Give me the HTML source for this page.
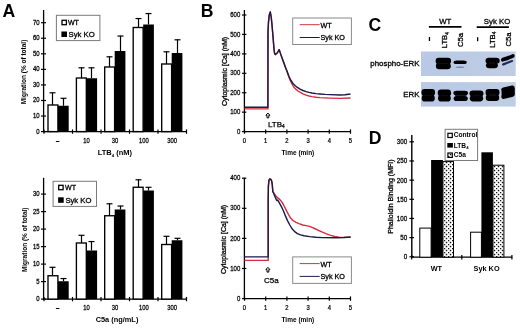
<!DOCTYPE html>
<html><head><meta charset="utf-8"><style>
html,body{margin:0;padding:0;background:#fff;width:520px;height:328px;overflow:hidden}
svg{display:block;will-change:transform}
text{font-family:"Liberation Sans", sans-serif}
text.r{stroke:#000;stroke-width:0.3px}
text.r2{stroke:#000;stroke-width:0.25px}
text.r3{stroke:#000;stroke-width:0.25px}
</style></head><body>
<svg width="520" height="328" viewBox="0 0 520 328">
<defs>
<pattern id="dots" width="4" height="4" patternUnits="userSpaceOnUse">
<rect width="4" height="4" fill="#fff"/>
<rect x="-0.2" y="-0.2" width="1.45" height="1.45" fill="#111"/>
<rect x="1.8" y="1.8" width="1.45" height="1.45" fill="#111"/>
</pattern>
<filter id="bl" x="-10%" y="-10%" width="120%" height="120%"><feGaussianBlur stdDeviation="0.5"/></filter>
<linearGradient id="blotg" x1="0" x2="1" y1="0" y2="0"><stop offset="0" stop-color="#b8c8e6"/><stop offset="0.5" stop-color="#bccbe4"/><stop offset="1" stop-color="#bfcde4"/></linearGradient>
</defs>
<rect width="520" height="328" fill="#fff"/>
<text x="2.6" y="16.6" font-size="17.6" font-weight="bold" text-anchor="start" fill="#000" >A</text>
<text x="200.8" y="16.5" font-size="17.6" font-weight="bold" text-anchor="start" fill="#000" >B</text>
<text x="368.6" y="31.3" font-size="17.6" font-weight="bold" text-anchor="start" fill="#000" >C</text>
<text x="368.7" y="143.6" font-size="17.6" font-weight="bold" text-anchor="start" fill="#000" >D</text>
<line x1="43.6" y1="10" x2="43.6" y2="132.2" stroke="#000" stroke-width="1.3"/>
<line x1="43.0" y1="131.6" x2="186.8" y2="131.6" stroke="#000" stroke-width="1.3"/>
<line x1="41.0" y1="131.6" x2="46.0" y2="131.6" stroke="#000" stroke-width="1.2"/>
<text class="r2" transform="translate(39.60,133.50) scale(0.92,1)" font-size="6.5" font-weight="normal" text-anchor="end">0</text>
<line x1="41.0" y1="116.04299999999999" x2="46.0" y2="116.04299999999999" stroke="#000" stroke-width="1.2"/>
<text class="r2" transform="translate(39.60,117.94) scale(0.92,1)" font-size="6.5" font-weight="normal" text-anchor="end">10</text>
<line x1="41.0" y1="100.48599999999999" x2="46.0" y2="100.48599999999999" stroke="#000" stroke-width="1.2"/>
<text class="r2" transform="translate(39.60,102.39) scale(0.92,1)" font-size="6.5" font-weight="normal" text-anchor="end">20</text>
<line x1="41.0" y1="84.929" x2="46.0" y2="84.929" stroke="#000" stroke-width="1.2"/>
<text class="r2" transform="translate(39.60,86.83) scale(0.92,1)" font-size="6.5" font-weight="normal" text-anchor="end">30</text>
<line x1="41.0" y1="69.37199999999999" x2="46.0" y2="69.37199999999999" stroke="#000" stroke-width="1.2"/>
<text class="r2" transform="translate(39.60,71.27) scale(0.92,1)" font-size="6.5" font-weight="normal" text-anchor="end">40</text>
<line x1="41.0" y1="53.81499999999998" x2="46.0" y2="53.81499999999998" stroke="#000" stroke-width="1.2"/>
<text class="r2" transform="translate(39.60,55.71) scale(0.92,1)" font-size="6.5" font-weight="normal" text-anchor="end">50</text>
<line x1="41.0" y1="38.257999999999996" x2="46.0" y2="38.257999999999996" stroke="#000" stroke-width="1.2"/>
<text class="r2" transform="translate(39.60,40.16) scale(0.92,1)" font-size="6.5" font-weight="normal" text-anchor="end">60</text>
<line x1="41.0" y1="22.700999999999993" x2="46.0" y2="22.700999999999993" stroke="#000" stroke-width="1.2"/>
<text class="r2" transform="translate(39.60,24.60) scale(0.92,1)" font-size="6.5" font-weight="normal" text-anchor="end">70</text>
<line x1="44.0" y1="129.4" x2="44.0" y2="133.79999999999998" stroke="#000" stroke-width="1.2"/>
<line x1="72.5" y1="129.4" x2="72.5" y2="133.79999999999998" stroke="#000" stroke-width="1.2"/>
<line x1="101.0" y1="129.4" x2="101.0" y2="133.79999999999998" stroke="#000" stroke-width="1.2"/>
<line x1="129.5" y1="129.4" x2="129.5" y2="133.79999999999998" stroke="#000" stroke-width="1.2"/>
<line x1="158.0" y1="129.4" x2="158.0" y2="133.79999999999998" stroke="#000" stroke-width="1.2"/>
<line x1="186.5" y1="129.4" x2="186.5" y2="133.79999999999998" stroke="#000" stroke-width="1.2"/>
<text class="r2" transform="translate(57.70,143.00) scale(0.86,1)" font-size="6.8" font-weight="normal" text-anchor="middle">–</text>
<text class="r2" transform="translate(86.60,143.00) scale(0.86,1)" font-size="6.8" font-weight="normal" text-anchor="middle">10</text>
<text class="r2" transform="translate(115.00,143.00) scale(0.86,1)" font-size="6.8" font-weight="normal" text-anchor="middle">30</text>
<text class="r2" transform="translate(143.80,143.00) scale(0.86,1)" font-size="6.8" font-weight="normal" text-anchor="middle">100</text>
<text class="r2" transform="translate(172.10,143.00) scale(0.86,1)" font-size="6.8" font-weight="normal" text-anchor="middle">300</text>
<line x1="52.5" y1="92.5" x2="52.5" y2="105" stroke="#000" stroke-width="1.2"/>
<line x1="49.5" y1="92.8" x2="55.5" y2="92.8" stroke="#000" stroke-width="1.2"/>
<line x1="63.5" y1="98" x2="63.5" y2="105.75" stroke="#000" stroke-width="1.2"/>
<line x1="60.5" y1="98.3" x2="66.5" y2="98.3" stroke="#000" stroke-width="1.2"/>
<rect x="48.00" y="105.00" width="9.90" height="26.60" fill="#fff" stroke="#000" stroke-width="1.35" />
<rect x="58.00" y="105.75" width="10.70" height="25.85" fill="#000" />
<line x1="81.5" y1="67.5" x2="81.5" y2="78" stroke="#000" stroke-width="1.2"/>
<line x1="78.5" y1="67.8" x2="84.5" y2="67.8" stroke="#000" stroke-width="1.2"/>
<line x1="91.5" y1="67.5" x2="91.5" y2="78.25" stroke="#000" stroke-width="1.2"/>
<line x1="88.5" y1="67.8" x2="94.5" y2="67.8" stroke="#000" stroke-width="1.2"/>
<rect x="76.40" y="78.00" width="9.90" height="53.60" fill="#fff" stroke="#000" stroke-width="1.35" />
<rect x="86.40" y="78.25" width="10.70" height="53.35" fill="#000" />
<line x1="109.5" y1="56.5" x2="109.5" y2="67" stroke="#000" stroke-width="1.2"/>
<line x1="106.5" y1="56.8" x2="112.5" y2="56.8" stroke="#000" stroke-width="1.2"/>
<line x1="120.5" y1="35.75" x2="120.5" y2="51" stroke="#000" stroke-width="1.2"/>
<line x1="117.5" y1="36.05" x2="123.5" y2="36.05" stroke="#000" stroke-width="1.2"/>
<rect x="104.70" y="67.00" width="9.90" height="64.60" fill="#fff" stroke="#000" stroke-width="1.35" />
<rect x="114.70" y="51.00" width="10.70" height="80.60" fill="#000" />
<line x1="138.5" y1="18.25" x2="138.5" y2="27.5" stroke="#000" stroke-width="1.2"/>
<line x1="135.5" y1="18.55" x2="141.5" y2="18.55" stroke="#000" stroke-width="1.2"/>
<line x1="148.5" y1="13.25" x2="148.5" y2="24.5" stroke="#000" stroke-width="1.2"/>
<line x1="145.5" y1="13.55" x2="151.5" y2="13.55" stroke="#000" stroke-width="1.2"/>
<rect x="133.20" y="27.50" width="9.90" height="104.10" fill="#fff" stroke="#000" stroke-width="1.35" />
<rect x="143.20" y="24.50" width="10.70" height="107.10" fill="#000" />
<line x1="166.5" y1="51.5" x2="166.5" y2="64" stroke="#000" stroke-width="1.2"/>
<line x1="163.5" y1="51.8" x2="169.5" y2="51.8" stroke="#000" stroke-width="1.2"/>
<line x1="177.5" y1="39.5" x2="177.5" y2="53" stroke="#000" stroke-width="1.2"/>
<line x1="174.5" y1="39.8" x2="180.5" y2="39.8" stroke="#000" stroke-width="1.2"/>
<rect x="161.70" y="64.00" width="9.90" height="67.60" fill="#fff" stroke="#000" stroke-width="1.35" />
<rect x="171.70" y="53.00" width="10.70" height="78.60" fill="#000" />
<line x1="43.6" y1="177.8" x2="43.6" y2="299.70000000000005" stroke="#000" stroke-width="1.3"/>
<line x1="43.0" y1="299.1" x2="186.8" y2="299.1" stroke="#000" stroke-width="1.3"/>
<line x1="41.0" y1="299.1" x2="46.0" y2="299.1" stroke="#000" stroke-width="1.2"/>
<text class="r2" transform="translate(39.60,301.00) scale(0.92,1)" font-size="6.5" font-weight="normal" text-anchor="end">0</text>
<line x1="41.0" y1="281.6" x2="46.0" y2="281.6" stroke="#000" stroke-width="1.2"/>
<text class="r2" transform="translate(39.60,283.50) scale(0.92,1)" font-size="6.5" font-weight="normal" text-anchor="end">5</text>
<line x1="41.0" y1="264.1" x2="46.0" y2="264.1" stroke="#000" stroke-width="1.2"/>
<text class="r2" transform="translate(39.60,266.00) scale(0.92,1)" font-size="6.5" font-weight="normal" text-anchor="end">10</text>
<line x1="41.0" y1="246.60000000000002" x2="46.0" y2="246.60000000000002" stroke="#000" stroke-width="1.2"/>
<text class="r2" transform="translate(39.60,248.50) scale(0.92,1)" font-size="6.5" font-weight="normal" text-anchor="end">15</text>
<line x1="41.0" y1="229.10000000000002" x2="46.0" y2="229.10000000000002" stroke="#000" stroke-width="1.2"/>
<text class="r2" transform="translate(39.60,231.00) scale(0.92,1)" font-size="6.5" font-weight="normal" text-anchor="end">20</text>
<line x1="41.0" y1="211.60000000000002" x2="46.0" y2="211.60000000000002" stroke="#000" stroke-width="1.2"/>
<text class="r2" transform="translate(39.60,213.50) scale(0.92,1)" font-size="6.5" font-weight="normal" text-anchor="end">25</text>
<line x1="41.0" y1="194.10000000000002" x2="46.0" y2="194.10000000000002" stroke="#000" stroke-width="1.2"/>
<text class="r2" transform="translate(39.60,196.00) scale(0.92,1)" font-size="6.5" font-weight="normal" text-anchor="end">30</text>
<line x1="44.0" y1="296.90000000000003" x2="44.0" y2="301.3" stroke="#000" stroke-width="1.2"/>
<line x1="72.5" y1="296.90000000000003" x2="72.5" y2="301.3" stroke="#000" stroke-width="1.2"/>
<line x1="101.0" y1="296.90000000000003" x2="101.0" y2="301.3" stroke="#000" stroke-width="1.2"/>
<line x1="129.5" y1="296.90000000000003" x2="129.5" y2="301.3" stroke="#000" stroke-width="1.2"/>
<line x1="158.0" y1="296.90000000000003" x2="158.0" y2="301.3" stroke="#000" stroke-width="1.2"/>
<line x1="186.5" y1="296.90000000000003" x2="186.5" y2="301.3" stroke="#000" stroke-width="1.2"/>
<text class="r2" transform="translate(57.70,310.00) scale(0.86,1)" font-size="6.8" font-weight="normal" text-anchor="middle">–</text>
<text class="r2" transform="translate(86.60,310.00) scale(0.86,1)" font-size="6.8" font-weight="normal" text-anchor="middle">10</text>
<text class="r2" transform="translate(115.00,310.00) scale(0.86,1)" font-size="6.8" font-weight="normal" text-anchor="middle">30</text>
<text class="r2" transform="translate(143.80,310.00) scale(0.86,1)" font-size="6.8" font-weight="normal" text-anchor="middle">100</text>
<text class="r2" transform="translate(172.10,310.00) scale(0.86,1)" font-size="6.8" font-weight="normal" text-anchor="middle">300</text>
<line x1="52.5" y1="267" x2="52.5" y2="275.75" stroke="#000" stroke-width="1.2"/>
<line x1="49.5" y1="267.3" x2="55.5" y2="267.3" stroke="#000" stroke-width="1.2"/>
<line x1="63.5" y1="278.25" x2="63.5" y2="281.25" stroke="#000" stroke-width="1.2"/>
<line x1="60.5" y1="278.55" x2="66.5" y2="278.55" stroke="#000" stroke-width="1.2"/>
<rect x="48.00" y="275.75" width="9.90" height="23.35" fill="#fff" stroke="#000" stroke-width="1.35" />
<rect x="58.00" y="281.25" width="10.70" height="17.85" fill="#000" />
<line x1="81.5" y1="235" x2="81.5" y2="243" stroke="#000" stroke-width="1.2"/>
<line x1="78.5" y1="235.3" x2="84.5" y2="235.3" stroke="#000" stroke-width="1.2"/>
<line x1="91.5" y1="241.25" x2="91.5" y2="250.5" stroke="#000" stroke-width="1.2"/>
<line x1="88.5" y1="241.55" x2="94.5" y2="241.55" stroke="#000" stroke-width="1.2"/>
<rect x="76.40" y="243.00" width="9.90" height="56.10" fill="#fff" stroke="#000" stroke-width="1.35" />
<rect x="86.40" y="250.50" width="10.70" height="48.60" fill="#000" />
<line x1="109.5" y1="203.5" x2="109.5" y2="215.75" stroke="#000" stroke-width="1.2"/>
<line x1="106.5" y1="203.8" x2="112.5" y2="203.8" stroke="#000" stroke-width="1.2"/>
<line x1="120.5" y1="205.75" x2="120.5" y2="209.5" stroke="#000" stroke-width="1.2"/>
<line x1="117.5" y1="206.05" x2="123.5" y2="206.05" stroke="#000" stroke-width="1.2"/>
<rect x="104.70" y="215.75" width="9.90" height="83.35" fill="#fff" stroke="#000" stroke-width="1.35" />
<rect x="114.70" y="209.50" width="10.70" height="89.60" fill="#000" />
<line x1="138.5" y1="179.5" x2="138.5" y2="187.25" stroke="#000" stroke-width="1.2"/>
<line x1="135.5" y1="179.8" x2="141.5" y2="179.8" stroke="#000" stroke-width="1.2"/>
<line x1="148.5" y1="187" x2="148.5" y2="190.5" stroke="#000" stroke-width="1.2"/>
<line x1="145.5" y1="187.3" x2="151.5" y2="187.3" stroke="#000" stroke-width="1.2"/>
<rect x="133.20" y="187.25" width="9.90" height="111.85" fill="#fff" stroke="#000" stroke-width="1.35" />
<rect x="143.20" y="190.50" width="10.70" height="108.60" fill="#000" />
<line x1="166.5" y1="236" x2="166.5" y2="244.5" stroke="#000" stroke-width="1.2"/>
<line x1="163.5" y1="236.3" x2="169.5" y2="236.3" stroke="#000" stroke-width="1.2"/>
<line x1="177.5" y1="238" x2="177.5" y2="240.25" stroke="#000" stroke-width="1.2"/>
<line x1="174.5" y1="238.3" x2="180.5" y2="238.3" stroke="#000" stroke-width="1.2"/>
<rect x="161.70" y="244.50" width="9.90" height="54.60" fill="#fff" stroke="#000" stroke-width="1.35" />
<rect x="171.70" y="240.25" width="10.70" height="58.85" fill="#000" />
<rect x="56.40" y="15.30" width="43.50" height="25.30" fill="#fff" stroke="#7a7a7a" stroke-width="1" />
<rect x="62.00" y="20.30" width="4.40" height="4.40" fill="#fff" stroke="#000" stroke-width="1.3" />
<rect x="61.40" y="31.50" width="5.60" height="5.50" fill="#000" />
<text x="67.9" y="24.7" font-size="7.1" font-weight="normal" text-anchor="start" fill="#000" class="r">WT</text>
<text x="68.6" y="37.0" font-size="7.7" font-weight="normal" text-anchor="start" fill="#000" class="r">Syk KO</text>
<rect x="53.10" y="181.30" width="43.40" height="25.10" fill="#fff" stroke="#7a7a7a" stroke-width="1" />
<rect x="58.70" y="185.30" width="4.40" height="4.40" fill="#fff" stroke="#000" stroke-width="1.3" />
<rect x="58.10" y="197.30" width="5.60" height="5.50" fill="#000" />
<text x="65.0" y="189.7" font-size="7.1" font-weight="normal" text-anchor="start" fill="#000" class="r">WT</text>
<text x="65.4" y="202.8" font-size="7.7" font-weight="normal" text-anchor="start" fill="#000" class="r">Syk KO</text>
<text x="114.9" y="155.4" font-size="7.5" font-weight="bold" text-anchor="middle" fill="#000" >LTB<tspan font-size="4.3" dy="1.6">4</tspan><tspan dy="-1.6"> (nM)</tspan></text>
<text x="117" y="322.3" font-size="7.4" font-weight="bold" text-anchor="middle" fill="#000" >C5a (ng/mL)</text>
<text transform="translate(26.4,72) rotate(-90)" font-size="6.5" font-weight="bold" text-anchor="middle">Migration (% of total)</text>
<text transform="translate(26.6,239.8) rotate(-90)" font-size="6.5" font-weight="bold" text-anchor="middle">Migration (% of total)</text>
<line x1="244.4" y1="10" x2="244.4" y2="132.2" stroke="#000" stroke-width="1.3"/>
<line x1="243.8" y1="131.6" x2="350.9" y2="131.6" stroke="#000" stroke-width="1.3"/>
<line x1="242.0" y1="131.6" x2="246.4" y2="131.6" stroke="#000" stroke-width="1.2"/>
<text class="r2" transform="translate(240.30,133.70) scale(0.86,1)" font-size="7.0" font-weight="normal" text-anchor="end">0</text>
<line x1="242.0" y1="112.16999999999999" x2="246.4" y2="112.16999999999999" stroke="#000" stroke-width="1.2"/>
<text class="r2" transform="translate(240.30,114.27) scale(0.86,1)" font-size="7.0" font-weight="normal" text-anchor="end">100</text>
<line x1="242.0" y1="92.74" x2="246.4" y2="92.74" stroke="#000" stroke-width="1.2"/>
<text class="r2" transform="translate(240.30,94.84) scale(0.86,1)" font-size="7.0" font-weight="normal" text-anchor="end">200</text>
<line x1="242.0" y1="73.31" x2="246.4" y2="73.31" stroke="#000" stroke-width="1.2"/>
<text class="r2" transform="translate(240.30,75.41) scale(0.86,1)" font-size="7.0" font-weight="normal" text-anchor="end">300</text>
<line x1="242.0" y1="53.879999999999995" x2="246.4" y2="53.879999999999995" stroke="#000" stroke-width="1.2"/>
<text class="r2" transform="translate(240.30,55.98) scale(0.86,1)" font-size="7.0" font-weight="normal" text-anchor="end">400</text>
<line x1="242.0" y1="34.44999999999999" x2="246.4" y2="34.44999999999999" stroke="#000" stroke-width="1.2"/>
<text class="r2" transform="translate(240.30,36.55) scale(0.86,1)" font-size="7.0" font-weight="normal" text-anchor="end">500</text>
<line x1="242.0" y1="15.019999999999996" x2="246.4" y2="15.019999999999996" stroke="#000" stroke-width="1.2"/>
<text class="r2" transform="translate(240.30,17.12) scale(0.86,1)" font-size="7.0" font-weight="normal" text-anchor="end">600</text>
<line x1="244.5" y1="129.4" x2="244.5" y2="133.79999999999998" stroke="#000" stroke-width="1.2"/>
<text class="r2" transform="translate(244.50,142.80) scale(0.9,1)" font-size="6.5" font-weight="normal" text-anchor="middle">0</text>
<line x1="265.7" y1="129.4" x2="265.7" y2="133.79999999999998" stroke="#000" stroke-width="1.2"/>
<text class="r2" transform="translate(265.70,142.80) scale(0.9,1)" font-size="6.5" font-weight="normal" text-anchor="middle">1</text>
<line x1="286.9" y1="129.4" x2="286.9" y2="133.79999999999998" stroke="#000" stroke-width="1.2"/>
<text class="r2" transform="translate(286.90,142.80) scale(0.9,1)" font-size="6.5" font-weight="normal" text-anchor="middle">2</text>
<line x1="308.1" y1="129.4" x2="308.1" y2="133.79999999999998" stroke="#000" stroke-width="1.2"/>
<text class="r2" transform="translate(308.10,142.80) scale(0.9,1)" font-size="6.5" font-weight="normal" text-anchor="middle">3</text>
<line x1="329.3" y1="129.4" x2="329.3" y2="133.79999999999998" stroke="#000" stroke-width="1.2"/>
<text class="r2" transform="translate(329.30,142.80) scale(0.9,1)" font-size="6.5" font-weight="normal" text-anchor="middle">4</text>
<line x1="350.5" y1="129.4" x2="350.5" y2="133.79999999999998" stroke="#000" stroke-width="1.2"/>
<text class="r2" transform="translate(350.50,142.80) scale(0.9,1)" font-size="6.5" font-weight="normal" text-anchor="middle">5</text>
<text x="297.9" y="154.6" font-size="6.5" font-weight="bold" text-anchor="middle" fill="#000" >Time (min)</text>
<polyline fill="none" stroke="#d42c40" stroke-width="1.4" stroke-linejoin="round" points="244.5,108.9 267.9,108.9 268.0,32.0 268.5,22.0 269.3,15.0 270.3,12.0 271.2,17.0 272.2,27.0 273.2,39.0 274.0,49.0 274.6,53.5 275.4,54.6 277.2,53.0 279.2,49.7 280.5,53.6 282.5,59.3 284.0,63.3 285.5,67.5 287.0,71.5 288.5,76.0 290.0,79.9 292.0,84.0 294.0,87.3 296.0,89.4 298.0,91.0 300.0,92.2 303.0,93.8 306.0,95.1 309.0,96.0 312.0,96.6 316.0,97.2 320.0,97.6 330.0,98.1 340.0,98.4 350.5,98.0"/>
<polyline fill="none" stroke="#1a1a48" stroke-width="1.4" stroke-linejoin="round" points="244.5,107.2 267.9,107.2 268.0,32.0 268.5,22.0 269.3,15.0 270.3,12.0 271.2,17.0 272.2,27.0 273.2,39.0 274.0,49.0 274.6,53.5 275.4,54.6 277.2,53.0 279.2,49.7 280.5,53.6 282.5,59.3 284.0,63.3 285.5,67.5 287.0,71.0 289.0,76.5 291.0,80.5 293.0,83.5 295.0,85.5 297.0,87.2 300.0,89.2 303.0,90.5 306.0,91.6 309.0,92.4 312.0,93.0 316.0,93.6 320.0,94.0 325.0,94.4 330.0,94.6 340.0,95.0 345.0,94.8 350.5,94.0"/>
<path d="M267.9 113.0 l-2.0 2.3 h1.1 v2.5 h1.8 v-2.5 h1.1 z" fill="#fff" stroke="#000" stroke-width="1.0" stroke-linejoin="round"/>
<rect x="292.70" y="18.00" width="58.70" height="26.50" fill="#fff" stroke="#8a8a8a" stroke-width="1" />
<line x1="299.7" y1="24.7" x2="319.7" y2="24.7" stroke="#d8303c" stroke-width="1"/>
<line x1="299.7" y1="37.5" x2="319.7" y2="37.5" stroke="#1c1c4c" stroke-width="1"/>
<text x="320.5" y="27.9" font-size="7.2" font-weight="normal" text-anchor="start" fill="#000" class="r">WT</text>
<text x="320.5" y="40.2" font-size="7.2" font-weight="normal" text-anchor="start" fill="#000" class="r">Syk KO</text>
<text x="267.9" y="126.5" font-size="8.0" font-weight="normal" text-anchor="start" fill="#000" class="r3">LTB<tspan font-size="4.8" dy="1.6">4</tspan></text>
<text class="r" transform="translate(226.6,71.5) rotate(-90)" font-size="7.0" font-weight="normal" text-anchor="middle">Cytoplasmic [Ca] (nM)</text>
<line x1="244.4" y1="177.8" x2="244.4" y2="299.20000000000005" stroke="#000" stroke-width="1.3"/>
<line x1="243.8" y1="298.6" x2="350.9" y2="298.6" stroke="#000" stroke-width="1.3"/>
<line x1="242.0" y1="298.6" x2="246.4" y2="298.6" stroke="#000" stroke-width="1.2"/>
<text class="r2" transform="translate(240.30,300.70) scale(0.86,1)" font-size="7.0" font-weight="normal" text-anchor="end">0</text>
<line x1="242.0" y1="268.5" x2="246.4" y2="268.5" stroke="#000" stroke-width="1.2"/>
<text class="r2" transform="translate(240.30,270.60) scale(0.86,1)" font-size="7.0" font-weight="normal" text-anchor="end">100</text>
<line x1="242.0" y1="238.40000000000003" x2="246.4" y2="238.40000000000003" stroke="#000" stroke-width="1.2"/>
<text class="r2" transform="translate(240.30,240.50) scale(0.86,1)" font-size="7.0" font-weight="normal" text-anchor="end">200</text>
<line x1="242.0" y1="208.3" x2="246.4" y2="208.3" stroke="#000" stroke-width="1.2"/>
<text class="r2" transform="translate(240.30,210.40) scale(0.86,1)" font-size="7.0" font-weight="normal" text-anchor="end">300</text>
<line x1="242.0" y1="178.20000000000005" x2="246.4" y2="178.20000000000005" stroke="#000" stroke-width="1.2"/>
<text class="r2" transform="translate(240.30,180.30) scale(0.86,1)" font-size="7.0" font-weight="normal" text-anchor="end">400</text>
<line x1="244.5" y1="296.40000000000003" x2="244.5" y2="300.8" stroke="#000" stroke-width="1.2"/>
<text class="r2" transform="translate(244.50,309.80) scale(0.9,1)" font-size="6.5" font-weight="normal" text-anchor="middle">0</text>
<line x1="265.7" y1="296.40000000000003" x2="265.7" y2="300.8" stroke="#000" stroke-width="1.2"/>
<text class="r2" transform="translate(265.70,309.80) scale(0.9,1)" font-size="6.5" font-weight="normal" text-anchor="middle">1</text>
<line x1="286.9" y1="296.40000000000003" x2="286.9" y2="300.8" stroke="#000" stroke-width="1.2"/>
<text class="r2" transform="translate(286.90,309.80) scale(0.9,1)" font-size="6.5" font-weight="normal" text-anchor="middle">2</text>
<line x1="308.1" y1="296.40000000000003" x2="308.1" y2="300.8" stroke="#000" stroke-width="1.2"/>
<text class="r2" transform="translate(308.10,309.80) scale(0.9,1)" font-size="6.5" font-weight="normal" text-anchor="middle">3</text>
<line x1="329.3" y1="296.40000000000003" x2="329.3" y2="300.8" stroke="#000" stroke-width="1.2"/>
<text class="r2" transform="translate(329.30,309.80) scale(0.9,1)" font-size="6.5" font-weight="normal" text-anchor="middle">4</text>
<line x1="350.5" y1="296.40000000000003" x2="350.5" y2="300.8" stroke="#000" stroke-width="1.2"/>
<text class="r2" transform="translate(350.50,309.80) scale(0.9,1)" font-size="6.5" font-weight="normal" text-anchor="middle">5</text>
<text x="297.9" y="321.6" font-size="6.5" font-weight="bold" text-anchor="middle" fill="#000" >Time (min)</text>
<polyline fill="none" stroke="#d42c40" stroke-width="1.4" stroke-linejoin="round" points="244.5,260.4 268.2,260.4 268.2,200.0 268.4,186.0 268.9,180.5 269.6,179.0 270.8,179.4 271.7,181.0 272.3,185.0 272.8,191.5 274.8,194.5 276.6,196.9 279.9,199.6 282.0,202.2 283.7,205.2 286.0,209.6 288.3,214.2 290.5,217.8 292.9,220.5 296.0,222.4 299.0,223.6 302.8,225.0 306.0,225.6 309.6,226.4 312.6,227.6 315.6,229.0 319.0,230.6 322.4,232.2 326.5,233.9 330.7,235.4 334.8,236.5 338.9,237.2 344.0,237.4 350.6,237.2"/>
<polyline fill="none" stroke="#1a1a48" stroke-width="1.4" stroke-linejoin="round" points="244.5,256.9 268.2,256.9 268.2,200.0 268.4,186.0 268.9,180.5 269.6,179.0 270.8,179.4 271.7,181.0 272.3,185.0 272.8,191.5 274.0,194.2 275.3,197.4 276.3,199.6 276.9,200.6 277.6,200.0 278.4,201.2 280.3,204.6 282.2,208.2 283.8,211.8 285.2,215.4 287.5,220.6 289.8,225.0 292.1,228.8 294.4,231.4 297.4,233.6 300.5,234.9 304.0,235.8 309.6,236.6 316.0,237.2 322.4,237.6 336.2,237.8 344.0,237.5 350.6,237.0"/>
<path d="M267.9 267.3 l-2.0 2.3 h1.1 v2.5 h1.8 v-2.5 h1.1 z" fill="#fff" stroke="#000" stroke-width="1.0" stroke-linejoin="round"/>
<rect x="292.70" y="256.90" width="58.70" height="26.50" fill="#fff" stroke="#8a8a8a" stroke-width="1" />
<line x1="299.7" y1="263.59999999999997" x2="319.7" y2="263.59999999999997" stroke="#d8303c" stroke-width="1"/>
<line x1="299.7" y1="276.4" x2="319.7" y2="276.4" stroke="#1c1c4c" stroke-width="1"/>
<text x="320.5" y="266.79999999999995" font-size="7.2" font-weight="normal" text-anchor="start" fill="#000" class="r">WT</text>
<text x="320.5" y="279.09999999999997" font-size="7.2" font-weight="normal" text-anchor="start" fill="#000" class="r">Syk KO</text>
<text x="264.0" y="282.7" font-size="8.0" font-weight="normal" text-anchor="start" fill="#000" class="r3">C5a</text>
<text class="r" transform="translate(226.2,239.5) rotate(-90)" font-size="7.0" font-weight="normal" text-anchor="middle">Cytoplasmic [Ca] (nM)</text>
<text x="445.2" y="24.1" font-size="7.8" font-weight="normal" text-anchor="middle" fill="#000" class="r">WT</text>
<line x1="428.9" y1="26.9" x2="461.5" y2="26.9" stroke="#000" stroke-width="1.6"/>
<text x="497" y="24.4" font-size="7.8" font-weight="normal" text-anchor="middle" fill="#000" class="r">Syk KO</text>
<line x1="476.7" y1="27.1" x2="508.9" y2="27.1" stroke="#000" stroke-width="1.6"/>
<rect x="428.80" y="37.00" width="1.30" height="4.00" fill="#000" />
<rect x="477.00" y="37.20" width="1.30" height="4.00" fill="#000" />
<text class="r" transform="translate(446.9,48.3) rotate(-90)" font-size="7.7" font-weight="normal" text-anchor="start">LTB<tspan font-size="4.9" dy="1.6">4</tspan></text>
<text class="r" transform="translate(494.6,47.8) rotate(-90)" font-size="7.7" font-weight="normal" text-anchor="start">LTB<tspan font-size="4.9" dy="1.6">4</tspan></text>
<text class="r" transform="translate(463.2,47.0) rotate(-90)" font-size="7.7" font-weight="normal" text-anchor="start">C5a</text>
<text class="r" transform="translate(511.3,46.5) rotate(-90)" font-size="7.7" font-weight="normal" text-anchor="start">C5a</text>
<text x="370.3" y="66.3" font-size="7.9" font-weight="normal" text-anchor="start" fill="#000" class="r">phospho-ERK</text>
<text x="419.6" y="97.3" font-size="7.9" font-weight="normal" text-anchor="end" fill="#000" class="r">ERK</text>
<rect x="421.00" y="51.50" width="94.70" height="24.50" fill="url(#blotg)" />
<rect x="421.00" y="82.10" width="94.70" height="24.50" fill="url(#blotg)" />
<g filter="url(#bl)">
<rect x="435.60" y="57.70" width="15.50" height="6.45" rx="3.20" ry="3.23" fill="#040406"/>
<rect x="435.90" y="62.75" width="14.90" height="6.45" rx="3.20" ry="3.23" fill="#040406"/>
<rect x="438.60" y="63.20" width="9.50" height="0.5" fill="#1a1a22"/>
<rect x="453.50" y="60.40" width="13.30" height="3.70" rx="3.20" ry="1.85" fill="#040406"/>
<rect x="455.50" y="66.50" width="9.00" height="1.40" rx="3.20" ry="0.70" fill="#7a88a8"/>
<rect x="485.50" y="57.70" width="14.20" height="5.90" rx="3.20" ry="2.95" fill="#040406"/>
<rect x="485.90" y="62.40" width="12.00" height="5.80" rx="3.20" ry="2.90" fill="#040406"/>
<rect x="489" y="62.8" width="6" height="0.5" fill="#1a1a22"/>
<path d="M501.0 59.8 Q501.0 62.0 503.0 61.6 Q508.5 60.0 513.4 57.8 Q515.2 56.8 514.5 55.0 Q513.8 53.6 511.8 54.4 Q507 56.3 502.4 57.8 Q501.0 58.4 501.0 59.8 Z" fill="#060608"/>
<path d="M502.0 64.8 Q502.2 66.0 503.8 65.4 Q508 63.8 512.6 61.8 Q513.6 61.1 512.9 60.2 Q512.2 59.7 511 60.2 Q507 61.8 503.0 63.3 Q501.9 63.8 502.0 64.8 Z" fill="#232a58"/>
<rect x="421.40" y="89.10" width="13.70" height="6.95" rx="3.20" ry="3.48" fill="#040406"/>
<rect x="421.70" y="94.65" width="13.10" height="6.95" rx="3.20" ry="3.48" fill="#040406"/>
<rect x="424.40" y="95.10" width="7.70" height="0.5" fill="#1a1a22"/>
<rect x="437.70" y="89.50" width="13.40" height="6.75" rx="3.20" ry="3.38" fill="#040406"/>
<rect x="438.00" y="94.85" width="12.80" height="6.75" rx="3.20" ry="3.38" fill="#040406"/>
<rect x="440.70" y="95.30" width="7.40" height="0.5" fill="#1a1a22"/>
<rect x="455" y="94.6" width="11.5" height="2.0" fill="#3a3a4c"/>
<rect x="453.40" y="90.80" width="14.60" height="4.60" rx="3.20" ry="2.30" fill="#040406"/>
<rect x="453.60" y="95.90" width="14.20" height="5.10" rx="3.20" ry="2.55" fill="#040406"/>
<rect x="469.50" y="90.40" width="14.00" height="6.20" rx="3.20" ry="3.10" fill="#040406"/>
<rect x="469.80" y="95.20" width="13.40" height="6.20" rx="3.20" ry="3.10" fill="#040406"/>
<rect x="472.50" y="95.65" width="8.00" height="0.5" fill="#1a1a22"/>
<rect x="485.50" y="89.10" width="14.00" height="6.65" rx="3.20" ry="3.33" fill="#040406"/>
<rect x="485.80" y="94.35" width="13.40" height="6.65" rx="3.20" ry="3.33" fill="#040406"/>
<rect x="488.50" y="94.80" width="8.00" height="0.5" fill="#1a1a22"/>
<path d="M501.3 89.6 Q501.1 87.9 503.2 87.5 L511.8 85.6 Q514.7 85.0 514.8 88.2 L514.8 94.6 Q514.8 96.6 512.3 96.9 L503.5 98.9 Q501.3 99.2 501.3 96.8 Q501.9 93.6 501.3 89.6 Z" fill="#040406"/>
</g>
<line x1="411.8" y1="134.9" x2="411.8" y2="257.9" stroke="#000" stroke-width="1.4"/>
<line x1="411.2" y1="257.2" x2="512.2" y2="257.2" stroke="#000" stroke-width="1.3"/>
<line x1="409.4" y1="256.8" x2="414.0" y2="256.8" stroke="#000" stroke-width="1.2"/>
<text class="r2" transform="translate(407.20,259.30) scale(0.95,1)" font-size="6.6" font-weight="normal" text-anchor="end">0</text>
<line x1="409.4" y1="237.63500000000002" x2="414.0" y2="237.63500000000002" stroke="#000" stroke-width="1.2"/>
<text class="r2" transform="translate(407.20,240.14) scale(0.95,1)" font-size="6.6" font-weight="normal" text-anchor="end">50</text>
<line x1="409.4" y1="218.47000000000003" x2="414.0" y2="218.47000000000003" stroke="#000" stroke-width="1.2"/>
<text class="r2" transform="translate(407.20,220.97) scale(0.95,1)" font-size="6.6" font-weight="normal" text-anchor="end">100</text>
<line x1="409.4" y1="199.305" x2="414.0" y2="199.305" stroke="#000" stroke-width="1.2"/>
<text class="r2" transform="translate(407.20,201.81) scale(0.95,1)" font-size="6.6" font-weight="normal" text-anchor="end">150</text>
<line x1="409.4" y1="180.14000000000001" x2="414.0" y2="180.14000000000001" stroke="#000" stroke-width="1.2"/>
<text class="r2" transform="translate(407.20,182.64) scale(0.95,1)" font-size="6.6" font-weight="normal" text-anchor="end">200</text>
<line x1="409.4" y1="160.97500000000002" x2="414.0" y2="160.97500000000002" stroke="#000" stroke-width="1.2"/>
<text class="r2" transform="translate(407.20,163.48) scale(0.95,1)" font-size="6.6" font-weight="normal" text-anchor="end">250</text>
<line x1="409.4" y1="141.81" x2="414.0" y2="141.81" stroke="#000" stroke-width="1.2"/>
<text class="r2" transform="translate(407.20,144.31) scale(0.95,1)" font-size="6.6" font-weight="normal" text-anchor="end">300</text>
<line x1="411.7" y1="255.0" x2="411.7" y2="259.4" stroke="#000" stroke-width="1.2"/>
<line x1="461.8" y1="255.0" x2="461.8" y2="259.4" stroke="#000" stroke-width="1.2"/>
<line x1="511.9" y1="255.0" x2="511.9" y2="259.4" stroke="#000" stroke-width="1.2"/>
<rect x="419.80" y="228.10" width="11.30" height="29.10" fill="#fff" stroke="#000" stroke-width="1" />
<rect x="431.10" y="160.00" width="11.80" height="97.20" fill="#000" />
<rect x="442.90" y="161.60" width="10.60" height="95.60" fill="url(#dots)" stroke="#000" stroke-width="1" />
<rect x="470.60" y="232.20" width="10.80" height="25.00" fill="#fff" stroke="#000" stroke-width="1" />
<rect x="481.40" y="152.30" width="11.50" height="104.90" fill="#000" />
<rect x="492.90" y="165.20" width="11.00" height="92.00" fill="url(#dots)" stroke="#000" stroke-width="1" />
<text x="436.4" y="271.1" font-size="7.3" font-weight="bold" text-anchor="middle" fill="#000" >WT</text>
<text x="486.6" y="271.1" font-size="7.3" font-weight="bold" text-anchor="middle" fill="#000" >Syk KO</text>
<text class="r" transform="translate(393.3,196.6) rotate(-90)" font-size="7.0" font-weight="normal" text-anchor="middle">Phalloidin Binding (MFI)</text>
<rect x="445.10" y="129.30" width="32.50" height="31.20" fill="#fff" stroke="#7a7a7a" stroke-width="1" />
<rect x="447.90" y="133.30" width="4.40" height="4.20" fill="#fff" stroke="#000" stroke-width="1.2" />
<rect x="447.30" y="143.00" width="5.60" height="4.60" fill="#000" />
<rect x="447.90" y="153.00" width="4.40" height="4.40" fill="url(#dots)" stroke="#000" stroke-width="1.2" />
<text x="453.8" y="137.4" font-size="6.6" font-weight="bold" text-anchor="start" fill="#000" >Control</text>
<text x="453.8" y="147.5" font-size="6.6" font-weight="bold" text-anchor="start" fill="#000" >LTB<tspan font-size="4.2" dy="1.4">4</tspan></text>
<text x="453.8" y="157.4" font-size="6.6" font-weight="bold" text-anchor="start" fill="#000" >C5a</text>
</svg>
</body></html>
